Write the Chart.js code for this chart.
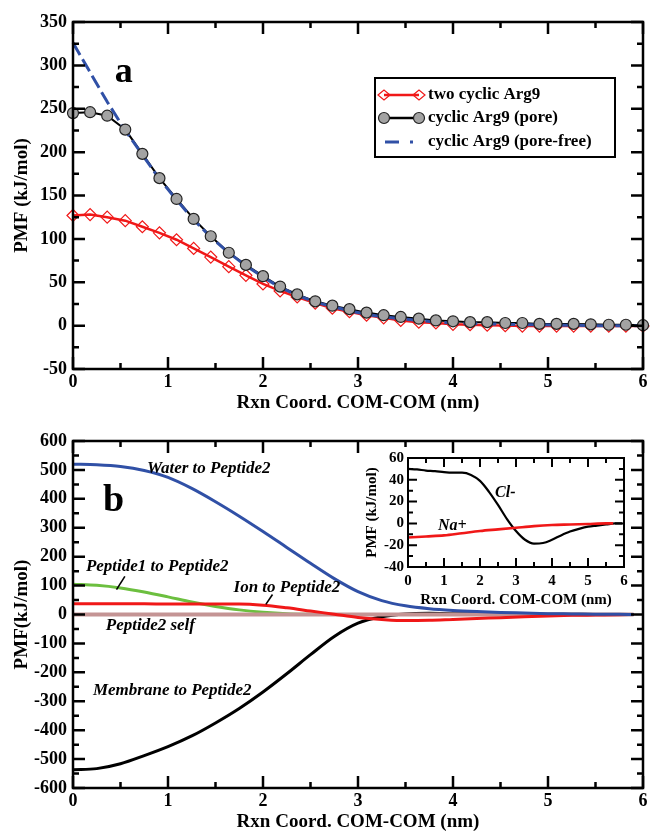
<!DOCTYPE html>
<html>
<head>
<meta charset="utf-8">
<script src="https://cdn.jsdelivr.net/npm/chart.js@4.4.1/dist/chart.umd.min.js"></script>
<style>
  html, body { margin: 0; padding: 0; background: #fff; }
  #wrap { position: relative; width: 651px; height: 831px; }
  canvas { position: absolute; }
  #cA { left: 0; top: 0; }
  #cB { left: 0; top: 420px; }
  #cI { left: 330px; top: 445px; }
</style>
</head>
<body>
<div id="wrap">
  <canvas id="cA" width="651" height="420"></canvas>
  <canvas id="cB" width="651" height="411"></canvas>
  <canvas id="cI" width="310" height="170"></canvas>
</div>
<script>
const SERIF = "'Liberation Serif', 'Times New Roman', serif";
const RED = '#f01818', BLUE = '#3050a6', GREEN = '#6cbf3f', SELF = '#c49494';

// panel a
const xA = [0, 0.18, 0.36, 0.55, 0.73, 0.91, 1.09, 1.27, 1.45, 1.64, 1.82, 2.00, 2.18, 2.36, 2.55, 2.73, 2.91,
            3.09, 3.27, 3.45, 3.64, 3.82, 4.00, 4.18, 4.36, 4.55, 4.73, 4.91, 5.09, 5.27, 5.45, 5.64, 5.82, 6.00];
const twoArg9 = [127, 128, 125, 121, 114, 107, 99, 89, 79, 68, 58, 48, 40, 33, 26, 20, 16,
                 12, 9, 6, 4, 3, 1.5, 1, 0.5, 0, -0.5, -0.5, -0.5, -0.5, -0.5, -0.5, -0.5, -0.5];
const arg9Pore = [245, 246, 242, 226, 198, 170, 146, 123, 103, 84, 70, 57, 45, 36, 28, 23, 19,
                  15, 12, 10, 8, 6, 5, 4, 4, 3, 3, 2, 2, 2, 1.5, 1, 1, 0.5];
const arg9PoreFree = [326, 292, 258, 225, 197, 169, 145, 122, 102, 84, 69, 56, 44, 35, 27, 22, 17,
                      13, 10, 8, 6, 4, 3, 2.5, 2, 1.5, 1, 1, 0.5, 0.5, 0, 0, 0, 0];

// panel b
const xB = [0, 0.25, 0.5, 0.75, 1, 1.25, 1.5, 1.75, 2, 2.25, 2.5, 2.75, 3, 3.25, 3.5, 3.75,
            4, 4.25, 4.5, 4.75, 5, 5.25, 5.5, 5.75, 5.9];
const water    = [520, 518, 512, 498, 474, 436, 390, 340, 287, 232, 177, 124, 79, 48, 30, 20,
                  14, 10, 7, 5, 3, 2, 1, 0.5, 0];
const membrane = [-537, -533, -516, -488, -457, -420, -375, -325, -268, -205, -139, -76, -30, -8, 2, 4,
                  3, 3, 2, 2, 1, 1, 0, 0, 0];
const pep1     = [105, 101, 92, 78, 61, 43, 28, 16, 8, 3, 1, 0, 0, 0, 0, 0,
                  0, 0, 0, 0, 0, 0, 0, 0, 0];
const ion      = [37, 37, 37, 37, 36, 36, 36, 36, 32, 23, 12, 1, -10, -17, -21, -20,
                  -17, -14, -11, -8, -5, -3, -2, -1, 0];
const xSelf = [0, 5.9];
const selfPmf = [0, 0];

// inset
const xCl = [0, 0.25, 0.5, 0.75, 1, 1.25, 1.5, 1.75, 2, 2.25, 2.5, 2.75, 3, 3.25, 3.5, 3.75,
             4, 4.25, 4.5, 4.75, 5, 5.25, 5.5, 5.75, 5.95];
const cl  = [50, 49.5, 48.5, 48, 47, 46.5, 46.5, 44.5, 39, 29, 17, 4, -7, -15, -18.5, -18,
             -15, -11, -7.5, -5, -3, -2, -1, 0, 0];
const xNa = [0, 0.5, 1, 1.5, 2, 2.5, 3, 3.5, 4, 4.5, 5, 5.5, 5.7];
const na  = [-13, -12, -11, -9, -7, -5.5, -4, -2.5, -1.5, -1, -0.5, 0, 0];

// tick labels
const xTicks = [0, 1, 2, 3, 4, 5, 6];
const yTicksA = [-50, 0, 50, 100, 150, 200, 250, 300, 350];
const yTicksB = [-600, -500, -400, -300, -200, -100, 0, 100, 200, 300, 400, 500, 600];
const yTicksI = [-40, -20, 0, 20, 40, 60];

Chart.defaults.font.family = SERIF;
Chart.defaults.color = '#000';

const pts = (xs, ys) => xs.map((x, i) => ({ x, y: ys[i] }));
const fnt = (size, italic) => `${italic ? 'italic ' : ''}bold ${size}px ${SERIF}`;

function decor(cfg) {
  return {
    id: 'decor',
    afterDatasetsDraw(chart) {
      const { ctx, chartArea: a, scales: { x, y } } = chart;
      ctx.save();
      ctx.strokeStyle = '#000';
      ctx.lineWidth = cfg.lw;
      ctx.beginPath();
      const marks = (s, horiz) => {
        const v = s.ticks.map(t => t.value);
        v.forEach((val, i) => {
          const list = [[val, cfg.maj]];
          if (i < v.length - 1) list.push([(val + v[i + 1]) / 2, cfg.min]);
          list.forEach(([w, len]) => {
            const p = s.getPixelForValue(w);
            if (horiz) {
              ctx.moveTo(p, a.bottom); ctx.lineTo(p, a.bottom - len);
              ctx.moveTo(p, a.top); ctx.lineTo(p, a.top + len);
            } else {
              ctx.moveTo(a.left, p); ctx.lineTo(a.left + len, p);
              ctx.moveTo(a.right, p); ctx.lineTo(a.right - len, p);
            }
          });
        });
      };
      marks(x, true);
      marks(y, false);
      ctx.stroke();
      ctx.strokeRect(a.left, a.top, a.right - a.left, a.bottom - a.top);

      ctx.fillStyle = '#000';
      ctx.textBaseline = 'alphabetic';
      ctx.textAlign = 'left';
      (cfg.notes || []).forEach(n => {
        ctx.font = fnt(n.size, n.italic);
        ctx.fillText(n.text, x.getPixelForValue(n.x), y.getPixelForValue(n.y));
      });
      ctx.lineWidth = 1.6;
      (cfg.leaders || []).forEach(l => {
        ctx.beginPath();
        ctx.moveTo(x.getPixelForValue(l[0]), y.getPixelForValue(l[1]));
        ctx.lineTo(x.getPixelForValue(l[2]), y.getPixelForValue(l[3]));
        ctx.stroke();
      });

      ctx.textAlign = 'center';
      ctx.textBaseline = 'middle';
      ctx.font = fnt(cfg.titleSize);
      ctx.fillText(cfg.xTitle, (a.left + a.right) / 2, cfg.xTitleY);
      ctx.translate(cfg.yTitleX, (a.top + a.bottom) / 2);
      ctx.rotate(-Math.PI / 2);
      ctx.fillText(cfg.yTitle, 0, 0);
      ctx.restore();
    }
  };
}

const legendA = {
  id: 'legendA',
  afterDatasetsDraw(chart) {
    const ctx = chart.ctx;
    ctx.save();
    ctx.fillStyle = '#fff';
    ctx.fillRect(375, 78, 240, 79);
    ctx.strokeStyle = '#000';
    ctx.lineWidth = 2;
    ctx.strokeRect(375, 78, 240, 79);
    const rows = [95, 118, 142];
    const x0 = 384, x1 = 419;
    // two cyclic Arg9
    ctx.strokeStyle = RED; ctx.lineWidth = 2.5;
    ctx.beginPath(); ctx.moveTo(x0, rows[0]); ctx.lineTo(x1, rows[0]); ctx.stroke();
    ctx.lineWidth = 1.2;
    [x0, x1].forEach(px => {
      ctx.beginPath();
      ctx.moveTo(px - 6, rows[0]); ctx.lineTo(px, rows[0] - 5);
      ctx.lineTo(px + 6, rows[0]); ctx.lineTo(px, rows[0] + 5); ctx.closePath();
      ctx.stroke();
    });
    // cyclic Arg9 (pore)
    ctx.strokeStyle = '#000'; ctx.lineWidth = 2.5;
    ctx.beginPath(); ctx.moveTo(x0, rows[1]); ctx.lineTo(x1, rows[1]); ctx.stroke();
    ctx.lineWidth = 1.2; ctx.fillStyle = '#a3a3a3'; ctx.strokeStyle = '#222';
    [x0, x1].forEach(px => {
      ctx.beginPath(); ctx.arc(px, rows[1], 5.5, 0, Math.PI * 2); ctx.fill(); ctx.stroke();
    });
    // cyclic Arg9 (pore-free)
    ctx.strokeStyle = BLUE; ctx.lineWidth = 3;
    ctx.beginPath();
    ctx.moveTo(385, rows[2]); ctx.lineTo(399, rows[2]);
    ctx.moveTo(410, rows[2]); ctx.lineTo(413, rows[2]);
    ctx.stroke();
    ctx.fillStyle = '#000';
    ctx.font = fnt(17);
    ctx.textAlign = 'left';
    ctx.textBaseline = 'middle';
    ctx.fillText('two cyclic Arg9', 428, rows[0]);
    ctx.fillText('cyclic Arg9 (pore)', 428, rows[1]);
    ctx.fillText('cyclic Arg9 (pore-free)', 428, rows[2]);
    ctx.restore();
  }
};

function scalesFor(c) {
  return {
    x: {
      type: 'linear', min: 0, max: 6,
      grid: { display: false, drawTicks: false }, border: { display: false },
      ticks: { padding: c.xPad, font: { size: c.fs, weight: 'bold' }, color: '#000', maxRotation: 0, autoSkip: false },
      afterBuildTicks: s => { s.ticks = xTicks.map(v => ({ value: v })); },
      afterFit: s => { s.height = c.xH; }
    },
    y: {
      type: 'linear', min: c.yTicks[0], max: c.yTicks[c.yTicks.length - 1],
      grid: { display: false, drawTicks: false }, border: { display: false },
      ticks: { padding: c.yPad, font: { size: c.fs, weight: 'bold' }, color: '#000', autoSkip: false },
      afterBuildTicks: s => { s.ticks = c.yTicks.map(v => ({ value: v })); },
      afterFit: s => { s.width = c.yW; }
    }
  };
}

function common(c) {
  return {
    responsive: false,
    animation: false,
    events: [],
    layout: { padding: { top: c.top, right: c.right, left: 0, bottom: 0 } },
    plugins: { legend: { display: false }, tooltip: { enabled: false } },
    scales: scalesFor(c)
  };
}

// panel a
new Chart(document.getElementById('cA'), {
  type: 'line',
  data: {
    datasets: [
      { data: pts(xA, twoArg9), borderColor: RED, borderWidth: 2.5, pointStyle: 'rectRot', pointRadius: 6,
        pointBorderColor: RED, pointBackgroundColor: 'rgba(255,255,255,0)', pointBorderWidth: 1.2, order: 4, clip: 8 },
      { data: pts(xA, arg9Pore), borderColor: '#000', borderWidth: 2, pointRadius: 0, order: 3, clip: 8 },
      { data: pts(xA, arg9PoreFree), borderColor: BLUE, borderWidth: 3, borderDash: [14, 5], pointRadius: 0, order: 2, clip: 8 },
      { data: pts(xA, arg9Pore), showLine: false, pointRadius: 5.5, pointBackgroundColor: '#a3a3a3',
        pointBorderColor: '#222', pointBorderWidth: 1.2, order: 1, clip: 8 }
    ]
  },
  options: common({ top: 22, right: 8, xH: 51, yW: 73, xPad: 3, yPad: 6, fs: 18, yTicks: yTicksA }),
  plugins: [decor({
    lw: 2.5, maj: 12, min: 6, titleSize: 19,
    xTitle: 'Rxn Coord. COM-COM (nm)', xTitleY: 403,
    yTitle: 'PMF (kJ/mol)', yTitleX: 22,
    notes: [{ text: 'a', x: 0.44, y: 281, size: 36 }]
  }), legendA]
});

// panel b
const lineB = { pointRadius: 0, borderWidth: 3, cubicInterpolationMode: 'monotone', clip: 4 };
new Chart(document.getElementById('cB'), {
  type: 'line',
  data: {
    datasets: [
      { ...lineB, data: pts(xB, pep1), borderColor: GREEN, order: 5 },
      { ...lineB, data: pts(xB, membrane), borderColor: '#000', order: 4 },
      { ...lineB, data: pts(xSelf, selfPmf), borderColor: SELF, borderWidth: 4, order: 3 },
      { ...lineB, data: pts(xB, ion), borderColor: RED, order: 2 },
      { ...lineB, data: pts(xB, water), borderColor: BLUE, order: 1 }
    ]
  },
  options: common({ top: 21, right: 8, xH: 43, yW: 73, xPad: 3, yPad: 6, fs: 18, yTicks: yTicksB }),
  plugins: [decor({
    lw: 2.5, maj: 12, min: 6, titleSize: 19,
    xTitle: 'Rxn Coord. COM-COM (nm)', xTitleY: 402,
    yTitle: 'PMF(kJ/mol)', yTitleX: 22,
    notes: [
      { text: 'b', x: 0.315, y: 358, size: 38 },
      { text: 'Water to Peptide2', x: 0.78, y: 490, size: 17, italic: true },
      { text: 'Peptide1 to Peptide2', x: 0.136, y: 149, size: 17, italic: true },
      { text: 'Ion to Peptide2', x: 1.69, y: 77, size: 17, italic: true },
      { text: 'Peptide2 self', x: 0.345, y: -52, size: 17, italic: true },
      { text: 'Membrane to Peptide2', x: 0.21, y: -278, size: 17, italic: true }
    ],
    leaders: [[0.546, 132, 0.458, 86], [2.10, 69, 2.03, 35]]
  })]
});

// inset
const lineI = { pointRadius: 0, cubicInterpolationMode: 'monotone', clip: 4 };
new Chart(document.getElementById('cI'), {
  type: 'line',
  data: {
    datasets: [
      { ...lineI, data: pts(xNa, na), borderColor: RED, borderWidth: 2.6, order: 1 },
      { ...lineI, data: pts(xCl, cl), borderColor: '#000', borderWidth: 2.2, order: 2 }
    ]
  },
  options: common({ top: 12, right: 16, xH: 48, yW: 78, xPad: 5, yPad: 4, fs: 15, yTicks: yTicksI }),
  plugins: [decor({
    lw: 2, maj: 9, min: 5, titleSize: 15,
    xTitle: 'Rxn Coord. COM-COM (nm)', xTitleY: 155,
    yTitle: 'PMF (kJ/mol)', yTitleX: 42,
    notes: [
      { text: 'Cl-', x: 2.42, y: 24.5, size: 16, italic: true },
      { text: 'Na+', x: 0.83, y: -6, size: 16, italic: true }
    ]
  })]
});
</script>
</body>
</html>
